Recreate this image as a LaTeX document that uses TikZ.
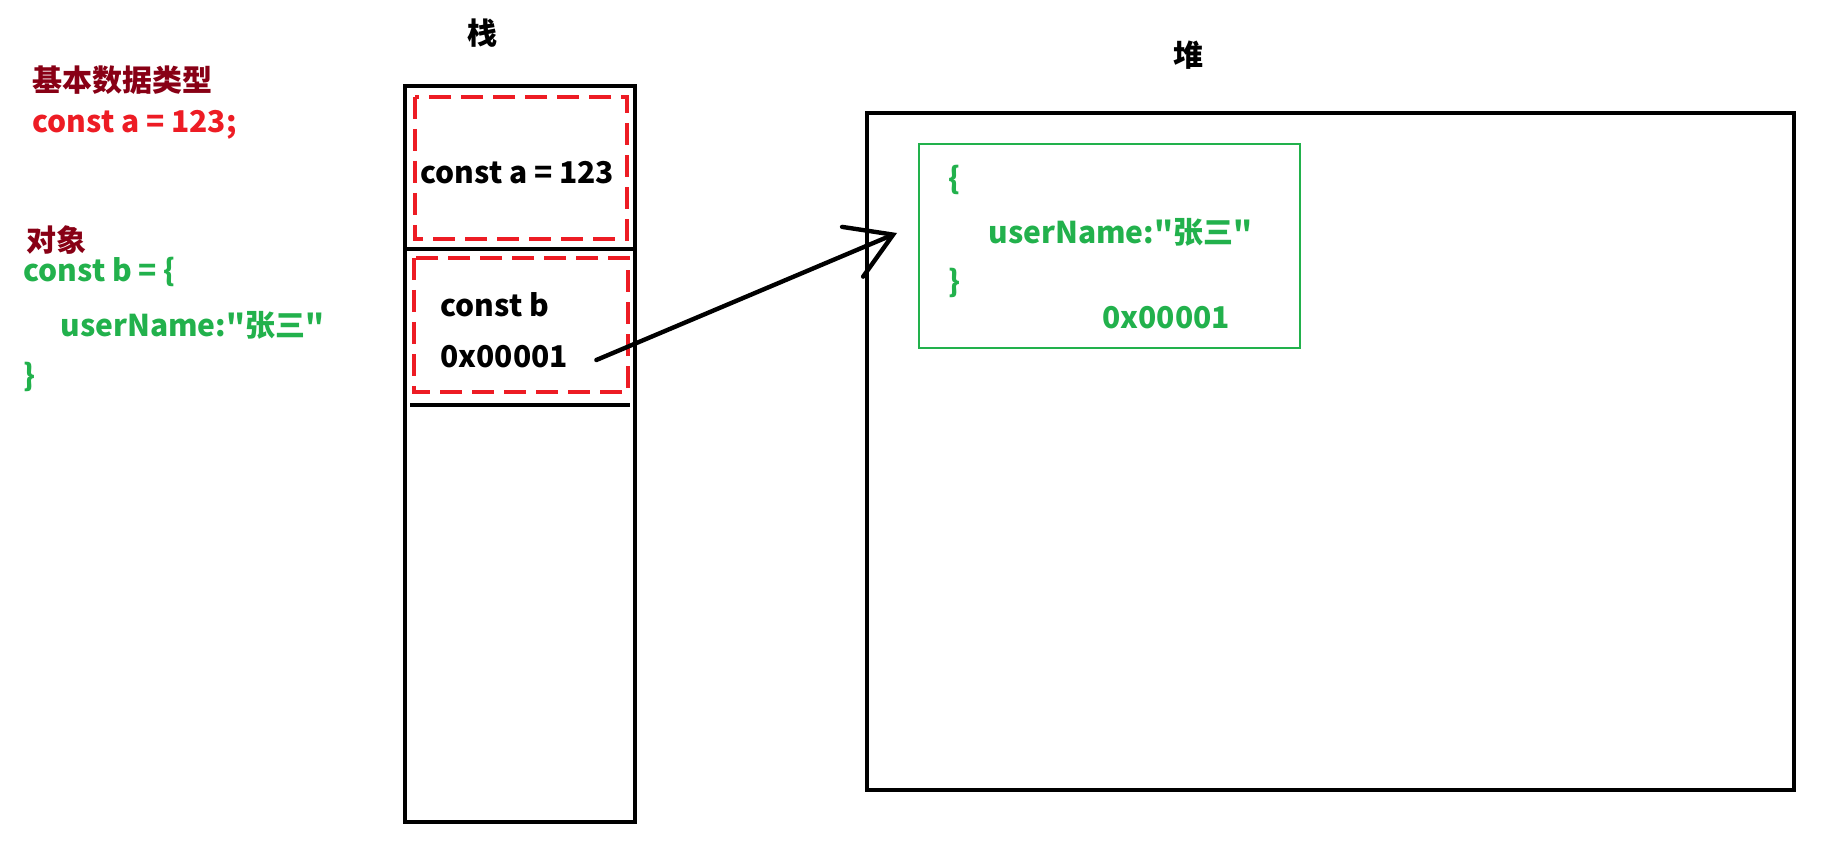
\documentclass[tikz,border=0pt]{standalone}
\usepackage{fontspec}
\setmainfont{Noto Sans CJK SC}[Ligatures=TeXOff]
\usetikzlibrary{arrows.meta,calc,positioning}
\definecolor{paintred}{HTML}{ED1C24}
\definecolor{paintdarkred}{HTML}{880015}
\definecolor{paintgreen}{HTML}{22B14C}

\begin{document}
\begin{tikzpicture}[x=0.5pt,y=-0.5pt,
    txt/.style={inner sep=0pt,anchor=west,font=\fontsize{15}{18}\selectfont\bfseries},
    box/.style={draw,line width=2pt},
    slot/.style={draw=paintred,line width=2.2pt,dash pattern=on 11pt off 5pt},
    ptr/.style={line width=2.2pt,line cap=round,-{Straight Barb[length=22pt,width=27pt,line cap=round]}}]
  \useasboundingbox (0,0) rectangle (1839,855);
  % source code
  \node[txt,text=paintdarkred] (prim) at (32,80) {基本数据类型};
  \node[txt,text=paintred] (adecl) at (32,125) {const a = 123;};
  \node[txt,text=paintdarkred] (objt) at (26,240) {对象};
  \node[txt,text=paintgreen] (bdecl) at (23,272) {const b = \{};
  \node[txt,text=paintgreen] (bfield) at (60,325) {userName:"张三"};
  \node[txt,text=paintgreen] (bclose) at (23,377) {\}};
  % stack
  \node[txt] (stack) at (467,33) {栈};
  \draw[box] (405,86) rectangle (635,822);
  \draw[box] (405,249) -- (635,249);
  \draw[box] (410,405) -- (630,405);
  \draw[slot] (415,97) rectangle (627,239);
  \draw[slot] (414,258) rectangle (628,392);
  \node[txt] (aval) at (420,173) {const a = 123};
  \node[txt] (bname) at (440,305) {const b};
  \node[txt] (addr) at (440,357) {0x00001};
  % heap
  \node[txt] (heap) at (1173,55) {堆};
  \draw[box] (867,113) rectangle (1794,790);
  \node[draw=paintgreen,line width=1pt,minimum width=190.5pt,minimum height=102pt] (obj) at (1109.5,246) {};
  \node[txt,text=paintgreen] (oopen) at (948,180) {\{};
  \node[txt,text=paintgreen] (ofield) at (988,232) {userName:"张三"};
  \node[txt,text=paintgreen] (oclose) at (948,283) {\}};
  \node[txt,text=paintgreen] (oaddr) at (1102,318) {0x00001};
  \draw[ptr] ($(addr.east)+(28,3)$) -- ($(obj.west)+(-21,-13)$);
\end{tikzpicture}
\end{document}
